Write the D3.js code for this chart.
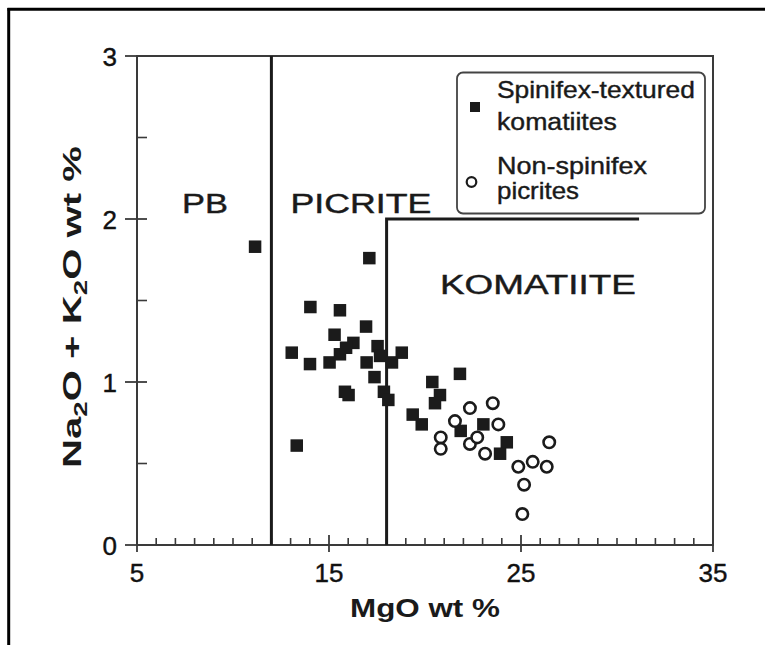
<!DOCTYPE html>
<html>
<head>
<meta charset="utf-8">
<script src="https://cdn.jsdelivr.net/npm/d3@7"></script>
<style>
  html, body { margin: 0; padding: 0; background: #fff; }
  svg { display: block; font-family: "Liberation Sans", Arial, Helvetica, sans-serif; }
</style>
</head>
<body>
<svg id="chart" width="765" height="645"></svg>
<script>
// ---- Data ----
const spinifexMgO = [11.15, 17.10, 14.03, 15.57, 16.93, 15.29, 16.27, 13.06, 14.01, 15.03, 15.57, 15.89,
  17.53, 16.96, 17.66, 18.28, 18.79, 17.37, 15.83, 16.02, 17.86, 18.09, 19.36, 19.83, 20.38, 20.78,
  20.52, 21.82, 21.86, 23.04, 24.26, 23.91, 13.32];
const spinifexAlk = [1.83, 1.76, 1.46, 1.44, 1.34, 1.29, 1.24, 1.18, 1.11, 1.12, 1.17, 1.21,
  1.22, 1.12, 1.16, 1.12, 1.18, 1.03, 0.94, 0.92, 0.94, 0.89, 0.80, 0.74, 1.00, 0.92,
  0.87, 1.05, 0.70, 0.74, 0.63, 0.56, 0.61];
const picriteMgO = [22.34, 23.53, 21.56, 23.82, 20.82, 20.82, 22.34, 22.72, 23.13, 26.47, 24.86, 25.61, 26.34, 25.16, 25.07];
const picriteAlk = [0.84, 0.87, 0.76, 0.74, 0.66, 0.59, 0.62, 0.66, 0.56, 0.63, 0.48, 0.51, 0.48, 0.37, 0.19];
const xTickLabels = [5, 15, 25, 35];
const yTickLabels = [0, 1, 2, 3];
const xMinorTicks = d3.range(6, 35, 1);
const yMinorTicks = [0.5, 1.5, 2.5];
const boundaryPB = 12;          // PB / PICRITE boundary (MgO)
const boundaryKom = 18;         // PICRITE / KOMATIITE boundary (MgO)
const komAlkLimit = 2;          // KOMATIITE upper alkali limit
const komLineEnd = 31.15;       // end of the horizontal boundary line
const regionNames = ["PB", "PICRITE", "KOMATIITE"];
const legendLabels = [["Spinifex-textured", "komatiites"], ["Non-spinifex", "picrites"]];

// ---- Layout ----
const svg = d3.select("#chart");
const x = d3.scaleLinear().domain([5, 35]).range([137, 713]);
const y = d3.scaleLinear().domain([0, 3]).range([545, 56]);
const ink = "#1b1b1b";
const axisInk = "#3a3a3a";

function fitText(sel, target) {
  sel.each(function () {
    const w = this.getComputedTextLength();
    const t = d3.select(this);
    const base = t.attr("data-base") || "";
    const ax = +t.attr("data-x"), ay = +t.attr("data-y");
    const anchor = t.attr("data-anchor") || "start";
    const s = target / w;
    let dx = 0;
    if (anchor === "middle") dx = -target / 2;
    t.attr("x", 0).attr("y", 0).attr("text-anchor", "start")
      .attr("transform", `translate(${ax},${ay}) ${base} translate(${dx},0) scale(${s},1)`);
  });
}

// outer frame (top + left)
svg.append("line").attr("x1", 7.5).attr("x2", 765).attr("y1", 9.2).attr("y2", 9.2)
  .attr("stroke", "#000").attr("stroke-width", 3);
svg.append("line").attr("x1", 8.7).attr("x2", 8.7).attr("y1", 8).attr("y2", 645)
  .attr("stroke", "#000").attr("stroke-width", 3);

// plot box
svg.append("rect").attr("x", x(5)).attr("y", y(3)).attr("width", x(35) - x(5)).attr("height", y(0) - y(3))
  .attr("fill", "none").attr("stroke", axisInk).attr("stroke-width", 2);

// y axis ticks
const g = svg.append("g");
g.selectAll(".ymaj").data(yTickLabels).join("line")
  .attr("x1", x(5) - 12).attr("x2", d => (d === 0 || d === 3) ? x(5) : x(5) + 10)
  .attr("y1", d => y(d)).attr("y2", d => y(d))
  .attr("stroke", axisInk).attr("stroke-width", 1.8);
g.selectAll(".ymin").data(yMinorTicks).join("line")
  .attr("x1", x(5)).attr("x2", x(5) + 10)
  .attr("y1", d => y(d)).attr("y2", d => y(d))
  .attr("stroke", axisInk).attr("stroke-width", 1.6);
g.selectAll(".ylab").data(yTickLabels).join("text")
  .attr("x", 117).attr("y", d => y(d) + 9.5)
  .attr("text-anchor", "end").attr("font-size", 26).attr("fill", "#111")
  .attr("stroke", "#111").attr("stroke-width", 0.4)
  .text(d => d);

// x axis ticks
g.selectAll(".xmin").data(xMinorTicks.filter(d => d % 10 !== 5)).join("line")
  .attr("x1", d => x(d)).attr("x2", d => x(d))
  .attr("y1", y(0)).attr("y2", y(0) - 7)
  .attr("stroke", axisInk).attr("stroke-width", 1.6);
g.selectAll(".xmaj").data(xTickLabels).join("line")
  .attr("x1", d => x(d)).attr("x2", d => x(d))
  .attr("y1", d => (d === 5 || d === 35) ? y(0) : y(0) - 10).attr("y2", y(0) + 7)
  .attr("stroke", axisInk).attr("stroke-width", 1.8);
g.selectAll(".xlab").data(xTickLabels).join("text")
  .attr("x", d => x(d)).attr("y", 582)
  .attr("text-anchor", "middle").attr("font-size", 26).attr("fill", "#111")
  .attr("stroke", "#111").attr("stroke-width", 0.4)
  .text(d => d);

// field boundaries
svg.append("line").attr("x1", x(boundaryPB)).attr("x2", x(boundaryPB)).attr("y1", y(0)).attr("y2", y(3))
  .attr("stroke", ink).attr("stroke-width", 3);
svg.append("path")
  .attr("d", `M${x(boundaryKom)},${y(0)} L${x(boundaryKom)},${y(komAlkLimit)} L${x(komLineEnd)},${y(komAlkLimit)}`)
  .attr("fill", "none").attr("stroke", ink).attr("stroke-width", 3);

// region labels
const regionLayout = [
  { cx: 205, cy: 213, w: 46 },
  { cx: 361, cy: 213, w: 141 },
  { cx: 538, cy: 294, w: 196 }
];
svg.selectAll(".region").data(regionNames).join("text")
  .attr("class", "region")
  .attr("font-size", 28).attr("fill", "#1a1a1a")
  .attr("stroke", "#1a1a1a").attr("stroke-width", 0.45)
  .attr("data-x", (d, i) => regionLayout[i].cx).attr("data-y", (d, i) => regionLayout[i].cy)
  .attr("data-anchor", "middle")
  .text(d => d)
  .each(function (d, i) { fitText(d3.select(this), regionLayout[i].w); });

// points: squares
const sq = 12.5;
svg.append("g").selectAll("rect").data(spinifexMgO.map((m, i) => [m, spinifexAlk[i]])).join("rect")
  .attr("x", d => x(d[0]) - sq / 2).attr("y", d => y(d[1]) - sq / 2)
  .attr("width", sq).attr("height", sq).attr("fill", ink);

// points: circles
svg.append("g").selectAll("circle").data(picriteMgO.map((m, i) => [m, picriteAlk[i]])).join("circle")
  .attr("cx", d => x(d[0])).attr("cy", d => y(d[1])).attr("r", 5.7)
  .attr("fill", "#fff").attr("stroke", ink).attr("stroke-width", 2.6);

// legend
const lg = svg.append("g");
lg.append("rect").attr("x", 457).attr("y", 72.5).attr("width", 248).attr("height", 141)
  .attr("rx", 6).attr("fill", "#fff").attr("stroke", "#444").attr("stroke-width", 1.8);
lg.append("rect").attr("x", 470).attr("y", 102).attr("width", 10).attr("height", 10).attr("fill", ink);
lg.append("circle").attr("cx", 471.5).attr("cy", 182).attr("r", 4.8)
  .attr("fill", "#fff").attr("stroke", ink).attr("stroke-width", 2.2);
const legLines = [
  { t: legendLabels[0][0], yb: 98, w: 198 },
  { t: legendLabels[0][1], yb: 130, w: 120 },
  { t: legendLabels[1][0], yb: 174, w: 150 },
  { t: legendLabels[1][1], yb: 199, w: 82 }
];
lg.selectAll(".leg").data(legLines).join("text")
  .attr("font-size", 23.5).attr("fill", "#1a1a1a")
  .attr("stroke", "#1a1a1a").attr("stroke-width", 0.4)
  .attr("data-x", 497).attr("data-y", d => d.yb)
  .text(d => d.t)
  .each(function (d) { fitText(d3.select(this), d.w); });

// axis titles
svg.append("text")
  .attr("font-size", 25).attr("font-weight", "bold").attr("fill", "#1a1a1a")
  .attr("data-x", 350).attr("data-y", 617)
  .text("MgO wt %")
  .call(fitText, 150);

const yt = svg.append("text")
  .attr("font-size", 26).attr("font-weight", "bold").attr("fill", "#1a1a1a")
  .attr("data-x", 81).attr("data-y", 468).attr("data-base", "rotate(-90)");
yt.append("tspan").text("Na");
yt.append("tspan").text("2").attr("font-size", 18).attr("dy", 6);
yt.append("tspan").text("O + K").attr("dy", -6);
yt.append("tspan").text("2").attr("font-size", 18).attr("dy", 6);
yt.append("tspan").text("O wt %").attr("dy", -6);
yt.call(fitText, 322);
</script>
</body>
</html>
